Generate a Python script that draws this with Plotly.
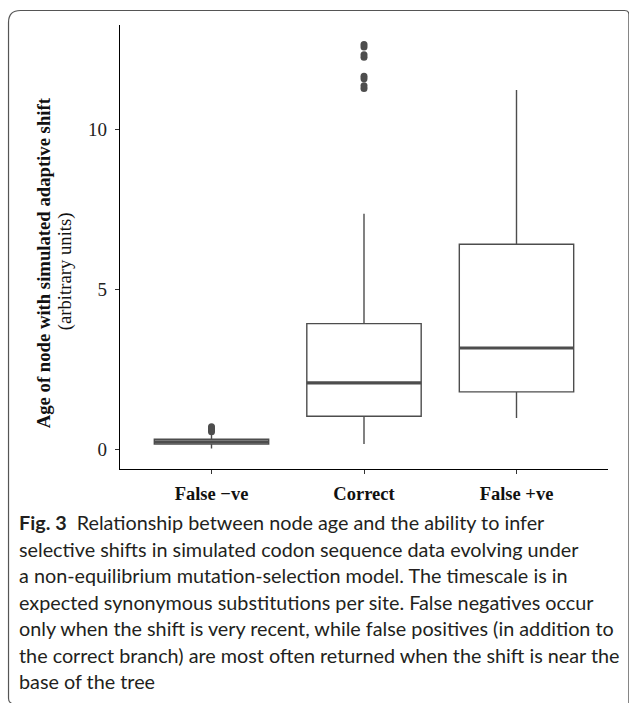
import plotly.graph_objects as go

# Box-plot summaries of node age for each inference outcome
categories = ["False −ve", "Correct", "False +ve"]
q1 = [0.17, 1.04, 1.80]
medians = [0.24, 2.08, 3.17]
q3 = [0.32, 3.93, 6.41]
lower_whisker = [0.03, 0.17, 0.98]
upper_whisker = [0.45, 7.36, 11.23]

# Outlying node ages beyond the whiskers
outliers_false_neg = [0.55, 0.60, 0.66, 0.71]
outliers_correct = [11.28, 11.36, 11.58, 11.66, 12.25, 12.33, 12.57, 12.65]
outliers_false_pos = []

y_ticks = [0, 5, 10]

caption_lines = [
    "<b>Fig. 3</b>  Relationship between node age and the ability to infer",
    "selective shifts in simulated codon sequence data evolving under",
    "a non-equilibrium mutation-selection model. The timescale is in",
    "expected synonymous substitutions per site. False negatives occur",
    "only when the shift is very recent, while false positives (in addition to",
    "the correct branch) are most often returned when the shift is near the",
    "base of the tree",
]

W, H = 629, 703
ML, MR, MT, MB = 119.5, 21.4, 25.0, 233.5
PW, PH = W - ML - MR, H - MT - MB


def px(x):
    return (x - ML) / PW


def py(y):
    return (H - MB - y) / PH


positions = [1, 2, 3]
box_w = 0.75
line_col = "#4d4d4d"

fig = go.Figure()

fig.add_trace(go.Box(
    x=positions, q1=q1, median=medians, q3=q3,
    lowerfence=lower_whisker, upperfence=upper_whisker,
    width=box_w, whiskerwidth=0,
    fillcolor="white", line=dict(color=line_col, width=1.4),
    boxpoints=False, showlegend=False,
))

# thicker median bars
mx, my = [], []
for p, m in zip(positions, medians):
    mx += [p - box_w / 2, p + box_w / 2, None]
    my += [m, m, None]
fig.add_trace(go.Scatter(x=mx, y=my, mode="lines",
                         line=dict(color=line_col, width=3.2),
                         showlegend=False, hoverinfo="skip"))

ox, oy = [], []
for p, vals in zip(positions, [outliers_false_neg, outliers_correct, outliers_false_pos]):
    ox += [p] * len(vals)
    oy += vals
fig.add_trace(go.Scatter(x=ox, y=oy, mode="markers",
                         marker=dict(color=line_col, size=7, symbol="circle"),
                         showlegend=False, hoverinfo="skip"))

serif = "Liberation Serif"
sans = "Lato"

fig.update_xaxes(
    range=[0.4, 3.6], tickvals=positions,
    ticktext=[f"<b>{c}</b>" for c in categories],
    showline=True, linecolor="black", linewidth=1.2,
    ticks="outside", ticklen=4, tickcolor="#333", tickwidth=1,
    showgrid=False, zeroline=False,
    tickfont=dict(family=serif, size=18.5, color="#111"),
    ticklabelstandoff=4,
)
fig.update_yaxes(
    range=[-0.61, 13.26], tickvals=y_ticks,
    showline=True, linecolor="black", linewidth=1.2,
    ticks="outside", ticklen=4, tickcolor="#333", tickwidth=1,
    showgrid=False, zeroline=False,
    tickfont=dict(family=serif, size=19, color="#222"),
    ticklabelstandoff=4,
)

annotations = [
    dict(text="<b>Age of node with simulated adaptive shift</b>",
         x=px(43), y=py(263), xref="paper", yref="paper", textangle=-90,
         showarrow=False, xanchor="center", yanchor="middle",
         font=dict(family=serif, size=18.7, color="#111")),
    dict(text="(arbitrary units)",
         x=px(64), y=py(272), xref="paper", yref="paper", textangle=-90,
         showarrow=False, xanchor="center", yanchor="middle",
         font=dict(family=serif, size=18.7, color="#111")),
]
for i, line in enumerate(caption_lines):
    annotations.append(dict(
        text=line, x=px(16), y=py(523 + 26.5 * i), xref="paper", yref="paper",
        showarrow=False, xanchor="left", yanchor="middle",
        font=dict(family=sans, size=19.8, color="#231f20"),
    ))

# rounded frame around the figure panel
r = 12
frame = (f"M {px(628.5)},{py(H + 5)} L {px(628.5)},{py(10.5 + 4)} "
         f"Q {px(628.5)},{py(10.5)} {px(624)},{py(10.5)} "
         f"L {px(8 + r)},{py(10.5)} Q {px(8)},{py(10.5)} {px(8)},{py(10.5 + r)} "
         f"L {px(8)},{py(H - 4)} Q {px(8)},{py(H)} {px(11)},{py(H + 1)}")

fig.update_layout(
    width=W, height=H,
    margin=dict(l=ML, r=MR, t=MT, b=MB, pad=0),
    paper_bgcolor="white", plot_bgcolor="white",
    annotations=annotations,
    shapes=[dict(type="path", path=frame, xref="paper", yref="paper",
                 line=dict(color="#555", width=1.2), layer="above")],
)

fig.write_html("out.html")
